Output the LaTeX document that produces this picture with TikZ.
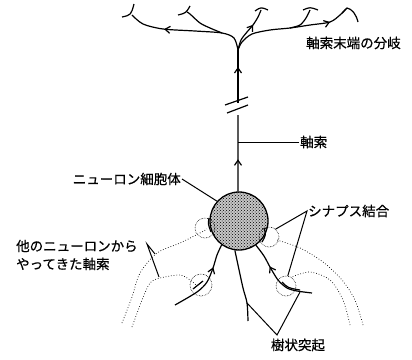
\documentclass[tikz,border=0pt]{standalone}
\usepackage{fontspec}
\setmainfont{Noto Sans CJK JP}[FakeBold=0.6]
\usetikzlibrary{arrows.meta,decorations.markings,patterns}

\begin{document}
\begin{tikzpicture}[x=1pt,y=-1pt,
		nerve/.style={line width=1.2pt},
		fiber/.style={dotted, line width=0.7pt},
		synapse/.style={circle, draw, densely dotted, line width=0.6pt, minimum size=20pt, inner sep=0pt},
		lbl/.style={font=\fontsize{13.5}{18}\selectfont, inner sep=1pt},
		lead/.style={line width=1pt},
		midarrow/.style={postaction={decorate}, decoration={markings, mark=at position #1 with {\arrow{Straight Barb[length=5pt,width=7pt]}}}}]
		\useasboundingbox (0,0) rectangle (412,359);

		\draw (239,221) node[circle, draw, line width=1.3pt, preaction={fill=black!22}, pattern=crosshatch dots, minimum size=58pt] (soma) {};

		\draw (205,228) node[synapse] (syn1) {};
		\draw (269,237) node[synapse] (syn2) {};
		\draw (201,285) node[synapse, minimum size=22pt] (syn3) {};
		\draw (286,286) node[synapse] (syn4) {};

		\draw (305,43) node[lbl, anchor=west] (endlabel) {軸索末端の分岐};
		\draw (299,142) node[lbl, anchor=west] (axonlabel) {軸索};
		\draw (182,179) node[lbl, anchor=east] (somalabel) {ニューロン細胞体};
		\draw (307,211) node[lbl, anchor=west] (synlabel) {シナプス結合};
		\draw (15,255) node[lbl, anchor=west, align=left] (inlabel) {他のニューロンから\\やってきた軸索};
		\draw (298,345) node[lbl] (dendlabel) {樹状突起};

		% axon
		\coordinate (cut1) at (238,115);
		\coordinate (cut2) at (238,103);
		\coordinate (fork) at (238,50);
		\draw[nerve, midarrow=0.42] (soma.92) -- (cut1);
		\draw[nerve, midarrow=0.68] (cut2) -- (fork);
		\draw[nerve] (225,105) -- (248,97);
		\draw[nerve] (227,113) -- (248,105);

		% terminal branches
		\draw[nerve, midarrow=0.70] plot[smooth] coordinates {(fork) (234,38) (222,33) (195,31) (163,29) (143,24) (132,15)};
		\draw[nerve] plot[smooth] coordinates {(222,33) (210,28) (200,23) (190,14) (187,12)};
		\draw[nerve, midarrow=0.64] plot[smooth] coordinates {(fork) (241,40) (247,32) (253,25) (258,17) (261,10)};
		\draw[nerve, midarrow=0.83] plot[smooth] coordinates {(fork) (242,42) (252,34) (270,30) (290,28) (310,25) (330,22) (340,15) (346,9)};
		\draw[nerve] plot[smooth] coordinates {(290,28) (300,25) (306,18) (310,10)};
		\draw[nerve] (122,17) .. controls (131,15) .. (134,4);
		\draw[nerve] (178,15) .. controls (186,13) .. (190,6);
		\draw[nerve] (255,11) .. controls (261,7) .. (268,10);
		\draw[nerve] (303,10) .. controls (310,7) .. (318,10);
		\draw[nerve] (342,13) -- (347,8) .. controls (352,9) and (356,14) .. (358,22);

		% axons from other neurons
		\draw[fiber] plot[smooth] coordinates {(122,323) (132,297) (140,273) (157,253) (180,243) (200,233) (207,229)};
		\draw[fiber] plot[smooth] coordinates {(132,327) (142,300) (150,283) (160,278) (180,275) (190,280) (196,285)};
		\draw[fiber] plot[smooth] coordinates {(363,325) (355,300) (342,280) (323,262) (300,248) (277,240)};
		\draw[fiber] plot[smooth] coordinates {(350,325) (343,300) (330,280) (310,272) (292,277)};
		\draw[nerve] (209,218) .. controls (208,224) .. (211,232);
		\draw[nerve] (264,228) .. controls (266,235) .. (262,242);
		\draw[nerve] (193,289) -- (203,281);
		\draw[nerve] (282,282) .. controls (288,288) .. (300,290);

		% dendrites
		\draw[nerve, midarrow=0.70] plot[smooth] coordinates {(175,305) (197,292) (207,282) (213,268) (217,255) (soma.234)};
		\draw[nerve] plot[smooth] coordinates {(soma.262) (238,265) (243,288) (247,303) (248,321)};
		\draw[nerve, midarrow=0.68] plot[smooth] coordinates {(312,293) (297,291) (287,288) (278,280) (270,267) (264,256) (soma.305)};

		% leaders
		\coordinate (axonpt) at (238,142);
		\coordinate (intip) at (147,244);
		\coordinate (fibApt) at (155,254);
		\coordinate (fibBpt) at (159,277);
		\coordinate (dendtip) at (277,335);
		\coordinate (dendMpt) at (247,303);
		\coordinate (dendRpt) at (300,292);
		\draw[lead] (axonlabel.west) -- (axonpt);
		\draw[lead] (somalabel.east) -- (soma.138);
		\draw[lead] (syn2.50) -- (synlabel.west) -- (syn4.80);
		\draw[lead] (fibApt) -- (intip) -- (fibBpt);
		\draw[lead] (dendMpt) -- (dendtip) -- (dendRpt);
	\end{tikzpicture}
\end{document}
